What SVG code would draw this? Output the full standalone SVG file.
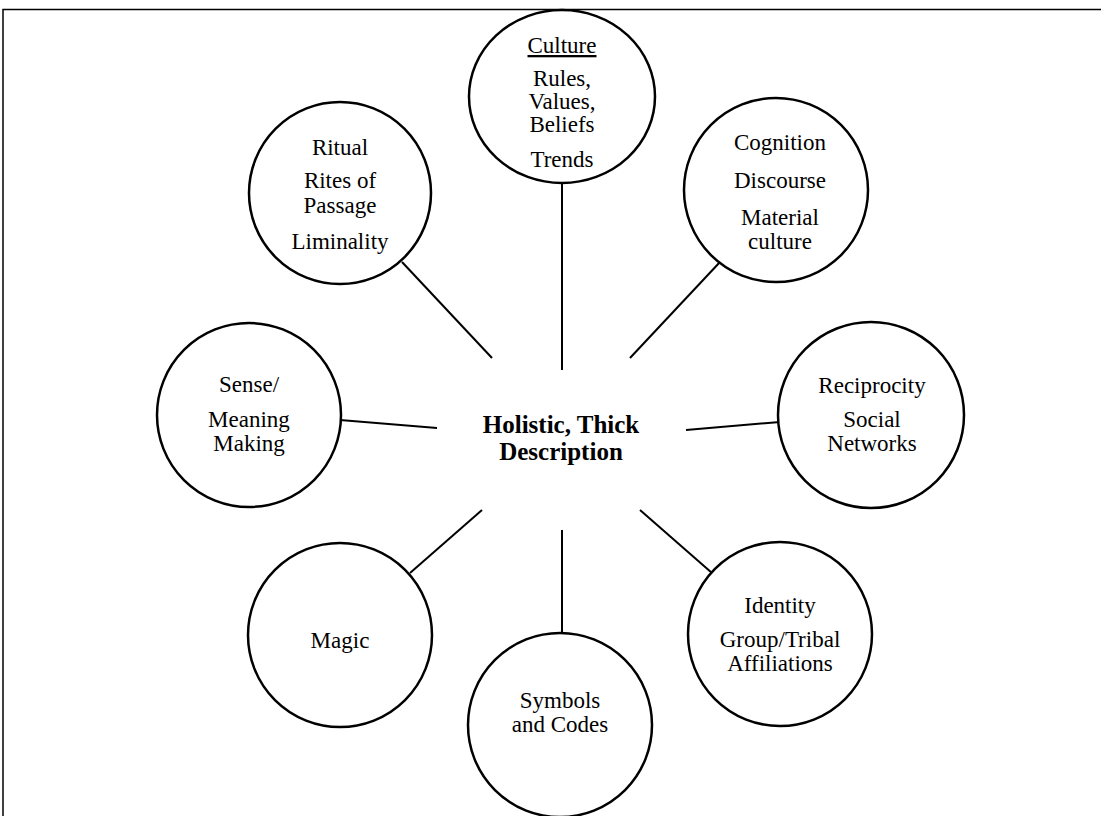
<svg xmlns="http://www.w3.org/2000/svg" width="1101" height="816" viewBox="0 0 1101 816">
<style>
  .node { fill: #ffffff; stroke: #000000; stroke-width: 2.5; }
  .t { font-family: "Liberation Serif", "Times New Roman", serif; font-size: 23px; fill: #000000; text-anchor: middle; }
  .c { font-family: "Liberation Serif", "Times New Roman", serif; font-size: 25px; font-weight: bold; fill: #000000; text-anchor: middle; }
  .conn line { stroke: #000000; stroke-width: 2; }
  .frame { stroke: #000000; stroke-width: 1.5; fill: none; }
</style>
<rect width="1101" height="816" fill="#ffffff"/>
<path class="frame" d="M3,816 V9.5 H1101"/>
<g class="conn">
  <line x1="562" y1="183" x2="562" y2="370"/>
  <line x1="402" y1="262" x2="492" y2="358"/>
  <line x1="720" y1="262" x2="630" y2="358"/>
  <line x1="340" y1="420" x2="437" y2="428"/>
  <line x1="686" y1="430" x2="780" y2="422"/>
  <line x1="410" y1="573" x2="482" y2="510"/>
  <line x1="562" y1="530" x2="562" y2="634"/>
  <line x1="640" y1="510" x2="712" y2="573"/>
</g>
<g id="center">
  <text class="c" x="561" y="433">Holistic, Thick</text>
  <text class="c" x="561" y="460">Description</text>
</g>
<g id="culture">
  <ellipse class="node" cx="562" cy="96.5" rx="93" ry="86.5"/>
  <text class="t" x="562" y="53" text-decoration="underline">Culture</text>
  <text class="t" x="562" y="86">Rules,</text>
  <text class="t" x="562" y="109">Values,</text>
  <text class="t" x="562" y="132">Beliefs</text>
  <text class="t" x="562" y="167">Trends</text>
</g>
<g id="ritual">
  <circle class="node" cx="340" cy="193" r="91"/>
  <text class="t" x="340" y="155">Ritual</text>
  <text class="t" x="340" y="188">Rites of</text>
  <text class="t" x="340" y="213">Passage</text>
  <text class="t" x="340" y="249">Liminality</text>
</g>
<g id="cognition">
  <circle class="node" cx="776" cy="190" r="92"/>
  <text class="t" x="780" y="150">Cognition</text>
  <text class="t" x="780" y="188">Discourse</text>
  <text class="t" x="780" y="225">Material</text>
  <text class="t" x="780" y="249">culture</text>
</g>
<g id="sense">
  <circle class="node" cx="249" cy="415" r="92"/>
  <text class="t" x="249" y="392">Sense/</text>
  <text class="t" x="249" y="427">Meaning</text>
  <text class="t" x="249" y="451">Making</text>
</g>
<g id="reciprocity">
  <circle class="node" cx="871" cy="415" r="93"/>
  <text class="t" x="872" y="393">Reciprocity</text>
  <text class="t" x="872" y="427">Social</text>
  <text class="t" x="872" y="451">Networks</text>
</g>
<g id="magic">
  <circle class="node" cx="340" cy="635" r="92"/>
  <text class="t" x="340" y="648">Magic</text>
</g>
<g id="symbols">
  <circle class="node" cx="560" cy="725" r="92"/>
  <text class="t" x="560" y="708">Symbols</text>
  <text class="t" x="560" y="732">and Codes</text>
</g>
<g id="identity">
  <circle class="node" cx="780" cy="634" r="92"/>
  <text class="t" x="780" y="613">Identity</text>
  <text class="t" x="780" y="647">Group/Tribal</text>
  <text class="t" x="780" y="671">Affiliations</text>
</g>
</svg>
